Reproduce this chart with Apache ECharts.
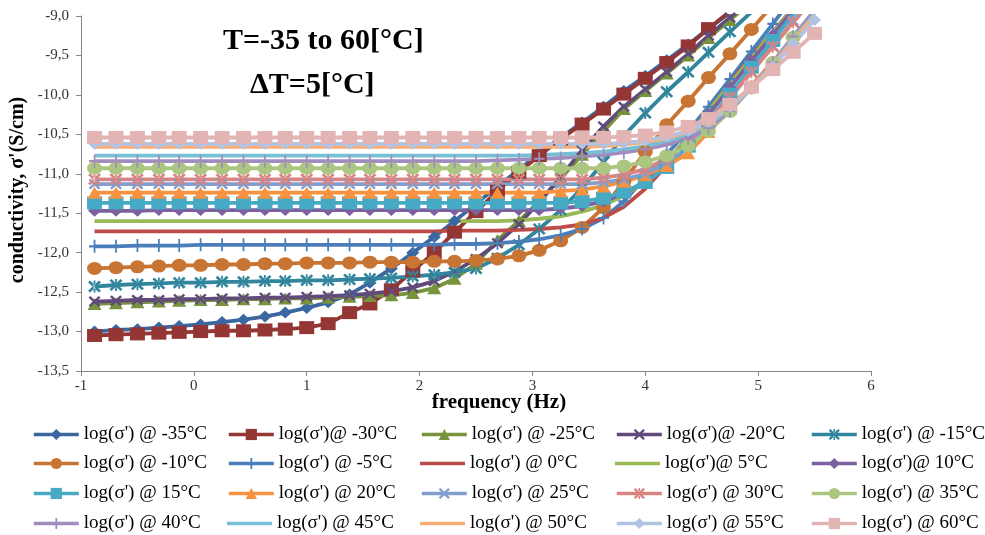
<!DOCTYPE html>
<html>
<head>
<meta charset="utf-8">
<script src="https://cdn.jsdelivr.net/npm/echarts@6/dist/echarts.min.js"></script>
<style>
  html, body { margin: 0; padding: 0; background: #fff; }
  #main { width: 985px; height: 535px; }
</style>
</head>
<body>
<div id="main"></div>
<script>
// log10(frequency / Hz)
var logF = [-0.88,-0.69,-0.50,-0.31,-0.13,0.06,0.25,0.44,0.63,0.81,
            1.00,1.19,1.38,1.56,1.75,1.94,2.13,2.31,2.50,2.69,
            2.88,3.06,3.25,3.44,3.63,3.81,4.00,4.19,4.38,4.56,
            4.75,4.94,5.13,5.31,5.50];

// log(sigma') per temperature
var cm35 = [-13.00,-12.98,-12.97,-12.95,-12.93,-12.91,-12.88,-12.85,-12.81,-12.76,
            -12.70,-12.63,-12.53,-12.38,-12.20,-12.00,-11.80,-11.60,-11.38,-11.16,
            -10.95,-10.74,-10.54,-10.35,-10.15,-9.95,-9.76,-9.56,-9.36,-9.16,-8.96];
var cm30 = [-13.05,-13.04,-13.03,-13.02,-13.01,-13.00,-12.99,-12.99,-12.98,-12.97,
            -12.95,-12.90,-12.76,-12.65,-12.47,-12.23,-12.00,-11.74,-11.48,-11.22,
            -10.98,-10.77,-10.56,-10.37,-10.18,-9.99,-9.79,-9.59,-9.38,-9.16,-8.94];
var cm25 = [-12.65,-12.64,-12.63,-12.62,-12.61,-12.60,-12.60,-12.59,-12.59,-12.58,
            -12.58,-12.57,-12.56,-12.55,-12.54,-12.51,-12.45,-12.33,-12.14,-11.84,
            -11.60,-11.35,-11.06,-10.76,-10.46,-10.18,-9.95,-9.73,-9.50,-9.28,-9.05,-8.82];
var cm20 = [-12.62,-12.61,-12.60,-12.60,-12.59,-12.59,-12.58,-12.58,-12.57,-12.57,
            -12.56,-12.55,-12.54,-12.52,-12.49,-12.44,-12.36,-12.24,-12.08,-11.88,
            -11.64,-11.36,-11.04,-10.70,-10.40,-10.15,-9.93,-9.71,-9.48,-9.25,-9.02,-8.80];
var cm15 = [-12.43,-12.41,-12.40,-12.39,-12.38,-12.38,-12.37,-12.37,-12.36,-12.36,
            -12.35,-12.35,-12.34,-12.33,-12.32,-12.30,-12.28,-12.25,-12.20,-12.07,
            -11.90,-11.70,-11.46,-11.18,-10.85,-10.52,-10.23,-9.96,-9.71,-9.46,-9.20,-8.95];
var cm10 = [-12.20,-12.19,-12.18,-12.17,-12.16,-12.16,-12.15,-12.15,-12.14,-12.14,
            -12.13,-12.13,-12.13,-12.12,-12.12,-12.12,-12.11,-12.11,-12.10,-12.08,
            -12.04,-11.97,-11.85,-11.68,-11.43,-11.10,-10.72,-10.38,-10.08,-9.78,
            -9.48,-9.17,-8.86];
var cm5  = [-11.92,-11.92,-11.91,-11.91,-11.91,-11.90,-11.90,-11.90,-11.90,-11.90,
            -11.90,-11.90,-11.90,-11.90,-11.90,-11.90,-11.90,-11.89,-11.89,-11.88,
            -11.86,-11.83,-11.78,-11.70,-11.56,-11.35,-11.05,-10.75,-10.46,-10.15,
            -9.80,-9.45,-9.10,-8.76];
var c0   = [-11.73,-11.73,-11.73,-11.73,-11.73,-11.73,-11.73,-11.73,-11.73,-11.73,
            -11.73,-11.73,-11.73,-11.73,-11.73,-11.73,-11.73,-11.72,-11.72,-11.72,
            -11.71,-11.70,-11.68,-11.64,-11.56,-11.42,-11.19,-10.89,-10.55,-10.20,
            -9.85,-9.51,-9.20,-8.90];
var c5   = [-11.60,-11.60,-11.60,-11.60,-11.60,-11.60,-11.60,-11.60,-11.60,-11.60,
            -11.60,-11.60,-11.60,-11.60,-11.60,-11.60,-11.60,-11.60,-11.60,-11.60,
            -11.59,-11.57,-11.54,-11.48,-11.40,-11.28,-11.10,-10.84,-10.53,-10.20,
            -9.86,-9.53,-9.21,-8.90];
var c10  = [-11.47,-11.47,-11.47,-11.46,-11.46,-11.46,-11.46,-11.46,-11.46,-11.46,
            -11.46,-11.46,-11.46,-11.46,-11.46,-11.46,-11.46,-11.46,-11.46,-11.46,
            -11.46,-11.46,-11.44,-11.41,-11.35,-11.25,-11.10,-10.87,-10.58,-10.25,
            -9.91,-9.57,-9.24,-8.92];
var c15  = [-11.37,-11.37,-11.37,-11.37,-11.37,-11.37,-11.37,-11.37,-11.37,-11.37,
            -11.37,-11.37,-11.37,-11.37,-11.37,-11.37,-11.37,-11.37,-11.37,-11.37,
            -11.37,-11.37,-11.37,-11.35,-11.31,-11.23,-11.11,-10.92,-10.65,-10.33,
            -9.99,-9.65,-9.31,-8.98,-8.66];
var c20  = [-11.24,-11.24,-11.24,-11.24,-11.24,-11.24,-11.24,-11.24,-11.24,-11.24,
            -11.24,-11.24,-11.24,-11.24,-11.24,-11.24,-11.24,-11.24,-11.24,-11.24,
            -11.24,-11.24,-11.22,-11.20,-11.16,-11.10,-11.02,-10.90,-10.74,-10.47,
            -10.18,-9.88,-9.58,-9.28,-8.98];
var c25  = [-11.13,-11.13,-11.13,-11.13,-11.13,-11.13,-11.13,-11.13,-11.13,-11.13,
            -11.13,-11.13,-11.13,-11.13,-11.13,-11.13,-11.13,-11.13,-11.13,-11.13,
            -11.13,-11.13,-11.13,-11.13,-11.11,-11.07,-11.00,-10.86,-10.64,-10.36,
            -10.04,-9.71,-9.38,-9.06,-8.74];
var c30  = [-11.07,-11.07,-11.07,-11.07,-11.07,-11.07,-11.07,-11.07,-11.07,-11.07,
            -11.07,-11.07,-11.07,-11.07,-11.07,-11.07,-11.07,-11.07,-11.07,-11.07,
            -11.07,-11.07,-11.07,-11.07,-11.05,-11.01,-10.94,-10.81,-10.61,-10.34,
            -10.03,-9.71,-9.39,-9.08,-8.77];
var c35  = [-10.93,-10.93,-10.93,-10.93,-10.93,-10.93,-10.93,-10.93,-10.93,-10.93,
            -10.93,-10.93,-10.93,-10.93,-10.93,-10.93,-10.93,-10.93,-10.93,-10.93,
            -10.93,-10.93,-10.93,-10.93,-10.93,-10.90,-10.85,-10.77,-10.65,-10.46,
            -10.21,-9.91,-9.59,-9.27,-8.95];
var c40  = [-10.84,-10.84,-10.84,-10.84,-10.84,-10.84,-10.84,-10.84,-10.84,-10.84,
            -10.84,-10.84,-10.84,-10.84,-10.84,-10.84,-10.84,-10.84,-10.84,-10.83,
            -10.82,-10.81,-10.80,-10.78,-10.76,-10.73,-10.69,-10.63,-10.55,-10.42,
            -10.20,-9.91,-9.59,-9.26,-8.93];
var c45  = [-10.77,-10.77,-10.77,-10.77,-10.77,-10.77,-10.77,-10.77,-10.77,-10.77,
            -10.77,-10.77,-10.77,-10.77,-10.77,-10.77,-10.77,-10.77,-10.77,-10.77,
            -10.77,-10.76,-10.75,-10.74,-10.72,-10.69,-10.65,-10.59,-10.50,-10.38,
            -10.18,-9.91,-9.61,-9.29,-8.97];
var c50  = [-10.66,-10.66,-10.66,-10.66,-10.66,-10.66,-10.66,-10.66,-10.66,-10.66,
            -10.66,-10.66,-10.66,-10.66,-10.66,-10.66,-10.66,-10.66,-10.66,-10.66,
            -10.66,-10.66,-10.66,-10.66,-10.65,-10.63,-10.60,-10.55,-10.47,-10.35,
            -10.16,-9.91,-9.62,-9.31,-8.99];
var c55  = [-10.62,-10.62,-10.62,-10.62,-10.62,-10.62,-10.62,-10.62,-10.62,-10.62,
            -10.62,-10.62,-10.62,-10.62,-10.62,-10.62,-10.62,-10.62,-10.62,-10.62,
            -10.62,-10.62,-10.62,-10.62,-10.62,-10.61,-10.58,-10.53,-10.46,-10.34,
            -10.15,-9.91,-9.64,-9.35,-9.05];
var c60  = [-10.54,-10.54,-10.54,-10.54,-10.54,-10.54,-10.54,-10.54,-10.54,-10.54,
            -10.54,-10.54,-10.54,-10.54,-10.54,-10.54,-10.54,-10.54,-10.54,-10.54,
            -10.54,-10.54,-10.54,-10.54,-10.54,-10.53,-10.51,-10.47,-10.40,-10.30,
            -10.12,-9.90,-9.68,-9.46,-9.22];

var names = [
  "log(σ') @ -35°C", "log(σ')@ -30°C", "log(σ') @ -25°C", "log(σ')@ -20°C", "log(σ') @ -15°C",
  "log(σ') @ -10°C", "log(σ') @ -5°C", "log(σ') @ 0°C", "log(σ')@ 5°C", "log(σ')@ 10°C",
  "log(σ') @ 15°C", "log(σ') @ 20°C", "log(σ') @ 25°C", "log(σ') @ 30°C", "log(σ') @ 35°C",
  "log(σ') @ 40°C", "log(σ') @ 45°C", "log(σ') @ 50°C", "log(σ') @ 55°C", "log(σ') @ 60°C"
];
var seriesValues = [cm35, cm30, cm25, cm20, cm15, cm10, cm5, c0, c5, c10,
                    c15, c20, c25, c30, c35, c40, c45, c50, c55, c60];
var yTicks = [-13.5, -9.0];
var xTicks = [-1, 6];

var colors = ['#3B67A0', '#943634', '#77933C', '#604A7B', '#31859C',
              '#C87533', '#4A7EBB', '#BE4B48', '#98B954', '#7D60A0',
              '#46AAC5', '#F69240', '#819ECF', '#D98482', '#ABC681',
              '#A08CBF', '#78BED5', '#F9AE78', '#B0C3E3', '#E3B4B4'];

// excel marker cycle
var xMark = 'path://M0,1.5L1.5,0L5,3.5L8.5,0L10,1.5L6.5,5L10,8.5L8.5,10L5,6.5L1.5,10L0,8.5L3.5,5Z';
var starMark = 'path://M0,1.5L1.5,0L5,3.5L8.5,0L10,1.5L6.5,5L10,8.5L8.5,10L5,6.5L1.5,10L0,8.5L3.5,5Z M4.3,0L4.3,10L5.7,10L5.7,0Z';
var plusMark = 'path://M4.2,0H5.8V4.2H10V5.8H5.8V10H4.2V5.8H0V4.2H4.2Z';
var lineIcon = 'path://M0,0H45V3.6H0Z';
var markers = ['diamond', 'rect', 'triangle', xMark, starMark, 'circle', plusMark, 'none', 'none'];
var markerSizes = [[13, 12], [15, 13], [14, 12], [12, 11], [13, 12], [15, 13], [11, 13], 0, 0];

var serif = '"Liberation Serif", "Times New Roman", serif';

var myChart = echarts.init(document.getElementById('main'));

var series = names.map(function (name, i) {
  var m = i % 9;
  return {
    name: name,
    type: 'line',
    data: seriesValues[i].map(function (v, k) { return [logF[k], v]; }),
    symbol: markers[m],
    symbolSize: markerSizes[m],
    showSymbol: markers[m] !== 'none',
    lineStyle: { color: colors[i], width: 3.8 },
    itemStyle: { color: colors[i], borderWidth: 0 },
    clip: true,
    silent: true
  };
});

var legendCols = [32, 227, 420, 615, 810];
var legendRows = [425, 454, 484, 514];
var legends = names.map(function (name, i) {
  var item = markers[i % 9] === 'none' ? { name: name, icon: lineIcon } : { name: name };
  return {
    data: [item],
    left: legendCols[i % 5],
    top: legendRows[Math.floor(i / 5)],
    padding: 0,
    itemWidth: 45,
    itemHeight: 14,
    selectedMode: false,
    lineStyle: { width: 3.6 },
    textStyle: { fontFamily: serif, fontSize: 19, color: '#000' }
  };
});

var option = {
  animation: false,
  backgroundColor: '#fff',
  grid: { left: 81, top: 16, right: 114, bottom: 164 },
  legend: legends,
  xAxis: {
    type: 'value',
    min: xTicks[0],
    max: xTicks[1],
    interval: 1,
    axisLine: { onZero: false, lineStyle: { color: '#868686', width: 1 } },
    axisTick: { show: true, length: 5, lineStyle: { color: '#868686' } },
    axisLabel: { color: '#333', fontFamily: serif, fontSize: 15, margin: 8 },
    splitLine: { show: false }
  },
  yAxis: {
    type: 'value',
    min: yTicks[0],
    max: yTicks[1],
    interval: 0.5,
    axisLine: { show: true, onZero: false, lineStyle: { color: '#868686', width: 1 } },
    axisTick: { show: true, length: 5, lineStyle: { color: '#868686' } },
    axisLabel: {
      color: '#333', fontFamily: serif, fontSize: 15, margin: 12,
      formatter: function (v) { return v.toFixed(1).replace('.', ','); }
    },
    splitLine: { show: false }
  },
  graphic: [
    { type: 'text', left: 223, top: 26, z: 10,
      style: { text: 'T=-35 to 60[°C]', font: 'bold 30px ' + serif, fill: '#000' } },
    { type: 'text', left: 250, top: 70, z: 10,
      style: { text: 'ΔT=5[°C]', font: 'bold 30px ' + serif, fill: '#000' } },
    { type: 'text', x: 499, y: 403, z: 10,
      style: { text: 'frequency (Hz)', font: 'bold 21px ' + serif, fill: '#000',
               align: 'center', verticalAlign: 'middle' } },
    { type: 'text', x: 18, y: 190, rotation: Math.PI / 2, z: 10,
      style: { text: "conductivity, σ'(S/cm)", font: 'bold 20px ' + serif, fill: '#000',
               align: 'center', verticalAlign: 'middle' } }
  ],
  series: series
};

myChart.setOption(option);

window.addEventListener('resize', function () {
  myChart.resize();
});
</script>
</body>
</html>
